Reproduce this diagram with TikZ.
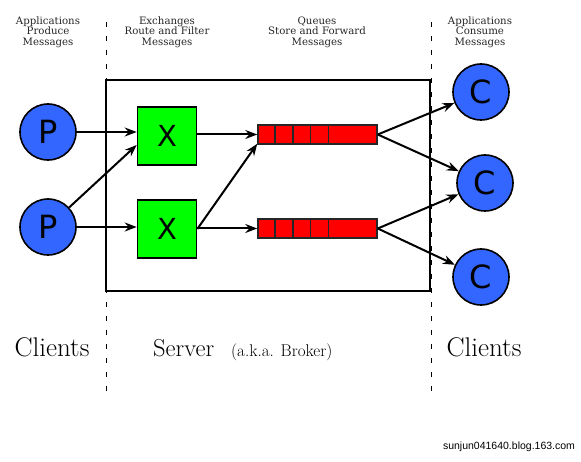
\documentclass[tikz,border=0pt]{standalone}
\usepackage{fontspec}
\usetikzlibrary{arrows.meta,calc}
\newfontfamily\labelfont{DejaVu Serif}
\newfontfamily\letterfont{DejaVu Sans}
\newfontfamily\wmfont{Liberation Sans}
\definecolor{pblue}{RGB}{51,102,255}
\definecolor{xgreen}{RGB}{0,255,0}
\definecolor{qred}{RGB}{255,0,0}
\tikzset{
  toplabel/.style={align=center,font=\labelfont\fontsize{10.2}{10.6}\selectfont,inner sep=0pt,text=black!85},
  client/.style={circle,draw=black,line width=1.6pt,fill=pblue,minimum size=56pt,inner sep=0pt,font=\letterfont\fontsize{32}{32}\selectfont},
  exch/.style={rectangle,draw=black,line width=1.6pt,fill=xgreen,minimum width=59pt,minimum height=58pt,inner sep=0pt,font=\letterfont\fontsize{29}{29}\selectfont},
  queue/.style={rectangle,draw=black!85,line width=1.5pt,fill=qred,minimum width=119pt,minimum height=19pt,inner sep=0pt},
  arr/.style={line width=2pt,-{Stealth[length=12pt,width=9pt,inset=4pt]}},
  divider/.style={line width=1pt,dash pattern=on 5pt off 9pt},
  bigtext/.style={inner sep=0pt,anchor=base},
}
\begin{document}
\begin{tikzpicture}[x=1pt,y=-1pt]
\useasboundingbox (0,0) rectangle (581,462);
% dividers
\coordinate (d1t) at (106,22); \coordinate (d1b) at (106,396);
\coordinate (d2t) at (431,22); \coordinate (d2b) at (431,396);
\draw[divider] (d1t) -- (d1b);
\draw[divider] (d2t) -- (d2b);
% server box
\node[draw=black,line width=2pt,minimum width=324pt,minimum height=211pt,inner sep=0pt] (server) at (268,185.5) {};
% top labels
\node[toplabel] (l1) at (48,32) {Applications\\Produce\\Messages};
\node[toplabel] (l2) at (167,32) {Exchanges\\Route and Filter\\Messages};
\node[toplabel] (l3) at (317,32) {Queues\\Store and Forward\\Messages};
\node[toplabel] (l4) at (480,32) {Applications\\Consume\\Messages};
% producers
\node[client] (P1) at (48,132) {P};
\node[client] (P2) at (48,227) {P};
% exchanges
\node[exch] (X1) at (167,136) {X};
\node[exch] (X2) at (167,229) {X};
% queues
\node[queue] (Q1) at (317.5,134.5) {};
\node[queue] (Q2) at (317.5,228.5) {};
\foreach \q in {Q1,Q2}{
  \foreach \k in {1,2,3,4}{
    \draw[black!85,line width=1.5pt] ($(\q.north west)+(\k*17.8,0)$) -- ($(\q.south west)+(\k*17.8,0)$);
  }
}
% consumers
\node[client] (C1) at (481,92) {C};
\node[client] (C2) at (485,183) {C};
\node[client] (C3) at (481,277) {C};
% arrows
\draw[arr] (P1) -- (P1 -| X1.west);
\draw[arr] (P2) -- ([yshift=-9pt]X1.west);
\draw[arr] (P2) -- (P2 -| X2.west);
\draw[arr] (X1.east |- Q1.west) -- (Q1.west);
\draw[arr] (X2.east) -- ([yshift=1pt]Q1.south west);
\draw[arr] (X2.east |- Q2.west) -- (Q2.west);
\draw[arr] (Q1.east) -- (C1);
\draw[arr] (Q1.east) -- (C2);
\draw[arr] (Q2.east) -- (C2);
\draw[arr] (Q2.east) -- (C3);
% bottom labels
\node[bigtext,font=\fontsize{27}{27}\selectfont] (cl1) at (52,356) {Clients};
\node[bigtext,font=\fontsize{24.5}{24.5}\selectfont,anchor=base west] (srv) at (153,356) {Server};
\node[bigtext,font=\fontsize{17}{17}\selectfont,anchor=base west] (aka) at (231,356) {(a.k.a. Broker)};
\node[bigtext,font=\fontsize{27}{27}\selectfont] (cl2) at (484,356) {Clients};
% watermark
\node[inner sep=0pt,font=\wmfont\fontsize{10.5}{10.5}\selectfont] (wm) at (509,447) {sunjun041640.blog.163.com};
\end{tikzpicture}
\end{document}
